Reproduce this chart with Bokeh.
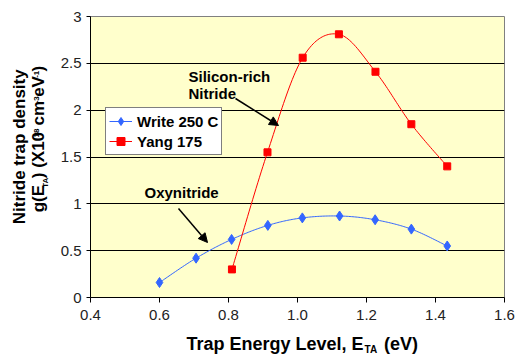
import numpy as np
from bokeh.plotting import figure
from bokeh.layouts import row, column
from bokeh.models import Label, Arrow, NormalHead, FixedTicker, Legend, LegendItem
from bokeh.embed import file_html
from bokeh.resources import INLINE

# ---- data ----
energy_write = [0.600, 0.706, 0.809, 0.914, 1.014, 1.122, 1.225, 1.330, 1.434]
density_write = [0.16, 0.42, 0.62, 0.77, 0.85, 0.87, 0.83, 0.73, 0.55]
energy_yang = [0.810, 0.913, 1.015, 1.120, 1.226, 1.330, 1.434]
density_yang = [0.30, 1.55, 2.56, 2.81, 2.41, 1.85, 1.40]
series_names = ["Write 250 C", "Yang 175"]
x_ticks = [0.4, 0.6, 0.8, 1.0, 1.2, 1.4, 1.6]
x_tick_labels = ["0.4", "0.6", "0.8", "1.0", "1.2", "1.4", "1.6"]
y_ticks = [0, 0.5, 1, 1.5, 2, 2.5, 3]
y_tick_labels = ["0", "0.5", "1", "1.5", "2", "2.5", "3"]

W, H = 516, 354
YLW = 55          # width of the y-title strip
XLH = 24          # height of the x-title strip
MW, MH = W - YLW, H - XLH
L, R, T, B = 90, 12, 16, 57
X0, X1, Y0, Y1 = 0.4, 1.6, 0.0, 3.0
FW, FH = W - L - R, H - T - B
BSHIFT = 0.4      # empirical baseline correction (fraction of font size)

def fx(px):
    return X0 + (px - L) * (X1 - X0) / FW

def fy(py):
    return Y0 + (T + FH - py) * (Y1 - Y0) / FH

def smooth(xs, ys, n=24):
    # Excel-like smoothed line: Catmull-Rom -> cubic Bezier
    P = np.column_stack([xs, ys]).astype(float)
    out = []
    for i in range(len(P) - 1):
        p0 = P[i - 1] if i > 0 else P[i]
        p1, p2 = P[i], P[i + 1]
        p3 = P[i + 2] if i + 2 < len(P) else P[i + 1]
        c1 = p1 + (p2 - p0) / 6.0
        c2 = p2 - (p3 - p1) / 6.0
        t = np.linspace(0, 1, n, endpoint=(i == len(P) - 2))[:, None]
        seg = ((1 - t) ** 3) * p1 + 3 * ((1 - t) ** 2) * t * c1 + 3 * (1 - t) * t ** 2 * c2 + t ** 3 * p2
        out.append(seg)
    a = np.vstack(out)
    return a[:, 0], a[:, 1]

FONT = "Liberation Sans"
BLUE = "#3366FF"
RED = "#FF0000"

p = figure(width=MW, height=MH, x_range=(X0, X1), y_range=(Y0, Y1),
           output_backend="svg", toolbar_location=None, title=None,
           min_border_left=L - YLW, min_border_right=R, min_border_top=T,
           min_border_bottom=MH - (T + FH))
p.background_fill_color = "#FFFFCC"
p.border_fill_color = "white"
p.outline_line_color = "#808080"
p.outline_line_width = 1

p.xgrid.visible = False
p.ygrid.grid_line_color = "black"
p.ygrid.grid_line_alpha = 1.0
p.ygrid.grid_line_width = 1

for ax in (p.xaxis[0], p.yaxis[0]):
    ax.axis_line_color = "black"
    ax.axis_line_width = 1
    ax.major_tick_line_color = "black"
    ax.minor_tick_line_color = None
    ax.major_tick_in = 0
    ax.major_label_text_font = FONT
    ax.major_label_text_font_size = "15px"
    ax.major_label_text_color = "#222222"

p.xaxis[0].ticker = FixedTicker(ticks=x_ticks)
p.xaxis[0].major_label_overrides = {t: s for t, s in zip(x_ticks, x_tick_labels)}
p.xaxis[0].major_tick_out = 5
p.xaxis[0].major_label_standoff = 7
p.yaxis[0].ticker = FixedTicker(ticks=y_ticks)
p.yaxis[0].major_label_overrides = {t: s for t, s in zip(y_ticks, y_tick_labels)}
p.yaxis[0].major_tick_out = 4
p.yaxis[0].major_label_standoff = 5

# ---- series ----
sx, sy = smooth(energy_write, density_write)
lw = p.line(sx, sy, line_color=BLUE, line_width=1)
mw = p.scatter(energy_write, density_write, marker="diamond", size=10,
               fill_color=BLUE, line_color=BLUE)
sx, sy = smooth(energy_yang, density_yang)
ly = p.line(sx, sy, line_color=RED, line_width=1)
my = p.scatter(energy_yang, density_yang, marker="square", size=7,
               fill_color=RED, line_color=RED)

legend = Legend(items=[LegendItem(label=series_names[0], renderers=[lw, mw]),
                       LegendItem(label=series_names[1], renderers=[ly, my])],
                location=(15, 142))
legend.background_fill_color = "white"
legend.background_fill_alpha = 1
legend.border_line_color = "black"
legend.border_line_width = 1
legend.label_text_font = FONT
legend.label_text_font_style = "bold"
legend.label_text_font_size = "15px"
legend.label_text_color = "black"
legend.glyph_width = 23
legend.glyph_height = 20
legend.label_height = 20
legend.label_standoff = 5
legend.spacing = 0
legend.padding = 3
legend.margin = 0
p.add_layout(legend, "center")

# ---- text helper: (x, y) are strip coordinates of the baseline start ----
def lab(fig, text, x, y, size=15, rotated=False, **kw):
    if rotated:
        x = x - BSHIFT * size
    else:
        y = y + BSHIFT * size
    fig.add_layout(Label(x=x, y=y, text=text, text_font=FONT,
                         text_font_style="bold", text_font_size=f"{size}px",
                         text_color="black", text_baseline="alphabetic",
                         angle=(np.pi / 2 if rotated else 0), **kw))

def plab(text, px, py, size=15):
    # label inside the main plot, given in page pixels
    p.add_layout(Label(x=fx(px), y=fy(py - BSHIFT * size), text=text, text_font=FONT,
                       text_font_style="bold", text_font_size=f"{size}px",
                       text_color="black", text_baseline="alphabetic"))

plab("Silicon-rich", 188, 82)
plab("Nitride", 188, 99)
plab("Oxynitride", 144, 198)

for (a, b, c, d) in [(235, 98, 278, 125), (178, 208, 207, 242)]:
    p.add_layout(Arrow(x_start=fx(a), y_start=fy(b), x_end=fx(c), y_end=fy(d),
                       line_color="black", line_width=1.5,
                       end=NormalHead(size=9, fill_color="black", line_color="black")))

# Arial-bold advance widths (per 1000 em)
AW = {'T': 611, 'r': 389, 'a': 556, 'p': 611, ' ': 278, 'E': 667, 'n': 611, 'e': 556,
      'g': 611, 'y': 556, 'L': 611, 'v': 556, 'l': 278, ',': 278, '(': 333, ')': 333,
      'V': 667, 'A': 722, 'X': 667, '1': 556, '0': 556, '8': 556, '3': 556, '-': 333,
      'c': 556, 'm': 889, 'N': 722, 'i': 278, 't': 333, 'd': 611, 's': 556}

def width(text, size):
    return sum(AW.get(ch, 556) for ch in text) * size / 1000.0

def strip(w, h):
    f = figure(width=w, height=h, x_range=(0, w), y_range=(0, h), title=None,
               x_axis_type=None, y_axis_type=None, output_backend="svg",
               toolbar_location=None, min_border=0)
    f.outline_line_color = None
    f.background_fill_color = "white"
    f.border_fill_color = "white"
    f.grid.visible = False
    return f

def pieces(parts):
    # split leading spaces off so they are advanced explicitly (SVG trims them)
    out = []
    for txt, sz, off in parts:
        lead = len(txt) - len(txt.lstrip(" "))
        out.append((txt.lstrip(" "), sz, off, width(" " * lead, sz)))
    return out

# y axis title strip (page x 0..YLW, page y 0..MH)
ylab = strip(YLW, MH)
lab(ylab, "Nitride trap density", 25.5, MH - 153, size=17, rotated=True, text_align="center")
y_title = [("g(E", 17, 0), ("TA", 8, 3), (") (X10", 17, 0), ("18", 8, -6),
           (" cm", 17, 0), ("-3", 8, -6), ("eV", 17, 0), ("-1", 8, -6), (")", 17, 0)]
cy = 230
for txt, sz, dx, lead in pieces(y_title):
    cy -= lead
    if sz < 17:
        cy -= 1.5
    lab(ylab, txt, 45 + dx, MH - cy, size=sz, rotated=True, text_align="left")
    cy -= width(txt, sz) + (0.5 if sz < 17 else 0)

# x axis title strip (page x 0..W, page y MH..H)
xlab = strip(W, XLH)
x_title = [("Trap Energy Level, E", 18, 0), ("TA", 10, 1.5), (" (eV)", 18, 0)]
cx = 186
for txt, sz, dy, lead in pieces(x_title):
    cx += lead
    lab(xlab, txt, cx, H - (351 + dy), size=sz)
    cx += width(txt, sz) + (1 if sz < 18 else 0)

layout = column(row(ylab, p, spacing=0), xlab, spacing=0)
open("out.html", "w").write(file_html(layout, INLINE))
